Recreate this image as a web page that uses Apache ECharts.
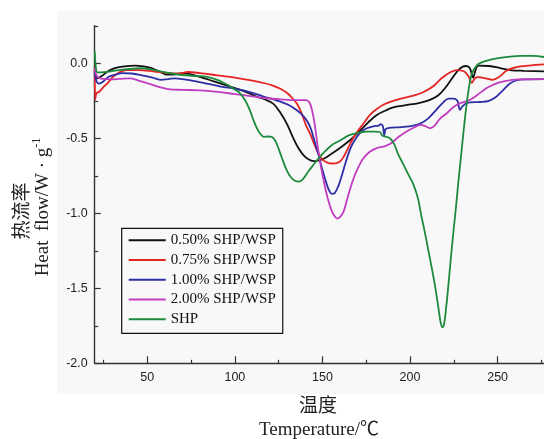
<!DOCTYPE html>
<html>
<head>
<meta charset="utf-8">
<script src="https://cdn.jsdelivr.net/npm/echarts@6/dist/echarts.min.js"></script>
<style>html,body{margin:0;padding:0;background:#fff}#c{width:544px;height:439px}</style>
</head>
<body>
<div id="c"></div>
<script>
const seriesNames = ['0.50% SHP/WSP', '0.75% SHP/WSP', '1.00% SHP/WSP', '2.00% SHP/WSP', 'SHP'];
const xTicks = [50, 100, 150, 200, 250];
const xMinorTicks = [25, 75, 125, 175, 225, 275];
const yTicks = [-2, -1.5, -1, -0.5, 0];
const yMinorTicks = [-1.75, -1.25, -0.75, -0.25, 0.25];

const s050 = [[20,-0.05],[21.5,-0.1],[24,-0.085],[28,-0.05],[32,-0.03],[37,-0.02],[43,-0.015],[48,-0.02],[52,-0.03],[57,-0.055],[61,-0.075],[65,-0.075],[70,-0.065],[74,-0.07],[80,-0.09],[88,-0.12],[96,-0.15],[104,-0.18],[112,-0.22],[118,-0.245],[122,-0.27],[126,-0.33],[130,-0.41],[133,-0.49],[136,-0.56],[139,-0.61],[142,-0.64],[145,-0.652],[148,-0.648],[151,-0.635],[155,-0.605],[160,-0.565],[166,-0.51],[171,-0.455],[176,-0.395],[181,-0.345],[186,-0.315],[190,-0.295],[197,-0.28],[205,-0.265],[211,-0.245],[216,-0.215],[220,-0.165],[224,-0.1],[228,-0.04],[231.5,-0.018],[234,-0.03],[236,-0.095],[237.5,-0.04],[239,-0.015],[245,-0.018],[251,-0.03],[257,-0.045],[265,-0.05],[280,-0.055]];
const s075 = [[20,-0.03],[20.3,-0.24],[21,-0.2],[22.5,-0.19],[24.5,-0.165],[27.5,-0.13],[31,-0.085],[35,-0.055],[39,-0.045],[45,-0.045],[54,-0.055],[62,-0.065],[69,-0.067],[73,-0.058],[80,-0.065],[90,-0.08],[100,-0.095],[110,-0.115],[117,-0.133],[122,-0.15],[126,-0.17],[130,-0.2],[133,-0.235],[135.5,-0.27],[138,-0.33],[140.5,-0.41],[143,-0.47],[145,-0.53],[147,-0.585],[149.5,-0.635],[152,-0.658],[155,-0.668],[157.5,-0.667],[160,-0.655],[162,-0.625],[164,-0.58],[167,-0.51],[170,-0.455],[173.5,-0.4],[177,-0.345],[181,-0.305],[185,-0.275],[190,-0.252],[196,-0.232],[203,-0.212],[208,-0.19],[213,-0.155],[218,-0.1],[223,-0.06],[227,-0.045],[231,-0.055],[233.5,-0.09],[235.3,-0.13],[237,-0.1],[239,-0.092],[243,-0.1],[247,-0.11],[251,-0.09],[255,-0.05],[260,-0.028],[268,-0.015],[280,-0.005]];
const s100 = [[20,-0.05],[21,-0.12],[22.5,-0.135],[25,-0.12],[28,-0.09],[32,-0.075],[36,-0.066],[41,-0.068],[47,-0.08],[53,-0.095],[58,-0.11],[62,-0.105],[66,-0.1],[70,-0.105],[74,-0.112],[82,-0.13],[92,-0.155],[100,-0.17],[108,-0.19],[116,-0.22],[122,-0.24],[126,-0.256],[131,-0.28],[135,-0.31],[139,-0.35],[141.5,-0.39],[143.5,-0.44],[145.5,-0.52],[147.5,-0.6],[149.5,-0.69],[151.5,-0.77],[153.5,-0.84],[155.3,-0.87],[157,-0.865],[159,-0.82],[161,-0.75],[163,-0.67],[165.5,-0.58],[168,-0.52],[171,-0.47],[175,-0.435],[179,-0.42],[182,-0.415],[183.3,-0.405],[184.5,-0.42],[185.3,-0.48],[186,-0.44],[188,-0.43],[195,-0.425],[202,-0.415],[207,-0.395],[211,-0.36],[215,-0.31],[219,-0.26],[222,-0.235],[225,-0.235],[227,-0.25],[228.5,-0.31],[230,-0.285],[233,-0.262],[240,-0.258],[245,-0.25],[249,-0.225],[253,-0.18],[257,-0.135],[261,-0.113],[266,-0.107],[280,-0.105]];
const s200 = [[20,-0.03],[21,-0.08],[23,-0.1],[27,-0.105],[31,-0.107],[36,-0.102],[40,-0.1],[45,-0.115],[50,-0.133],[56,-0.155],[62,-0.172],[70,-0.177],[80,-0.18],[90,-0.19],[100,-0.205],[110,-0.22],[118,-0.233],[126,-0.24],[135,-0.245],[140.5,-0.245],[142.5,-0.26],[144,-0.31],[145.5,-0.4],[147,-0.53],[149,-0.68],[151,-0.8],[153,-0.9],[155,-0.975],[157,-1.02],[158.5,-1.035],[160,-1.025],[162,-0.99],[164,-0.91],[166,-0.83],[168,-0.76],[170,-0.705],[173,-0.64],[177,-0.59],[181,-0.565],[185,-0.555],[189,-0.535],[193,-0.495],[198,-0.455],[202,-0.43],[206,-0.41],[209,-0.42],[211.5,-0.433],[214,-0.415],[217,-0.37],[221,-0.333],[225,-0.29],[228.5,-0.267],[234,-0.245],[238,-0.215],[243.5,-0.167],[248,-0.14],[253,-0.122],[262,-0.107],[280,-0.105]];
const shp = [[20,0.08],[20.7,-0.03],[21.5,-0.06],[24,-0.06],[28,-0.055],[34,-0.045],[40,-0.038],[46,-0.033],[52,-0.04],[58,-0.055],[64,-0.068],[70,-0.078],[78,-0.085],[84,-0.09],[90,-0.11],[96,-0.145],[100,-0.175],[103,-0.2],[106,-0.25],[108.5,-0.31],[110.5,-0.375],[112.5,-0.43],[114.5,-0.47],[116.5,-0.49],[119,-0.488],[121,-0.49],[123,-0.515],[125,-0.57],[127,-0.635],[129.5,-0.71],[132,-0.76],[134.5,-0.785],[136.5,-0.789],[139,-0.77],[142,-0.72],[145,-0.675],[148,-0.63],[152,-0.58],[156,-0.54],[160,-0.515],[165,-0.48],[170,-0.465],[175,-0.456],[180,-0.455],[182.8,-0.458],[184,-0.48],[185.5,-0.487],[188.5,-0.5],[191,-0.54],[193,-0.6],[196,-0.67],[199,-0.74],[202,-0.81],[204.5,-0.9],[206.5,-1.02],[208.5,-1.13],[210.5,-1.25],[212.5,-1.37],[214.5,-1.5],[216.3,-1.64],[217.5,-1.73],[218.4,-1.76],[219.4,-1.74],[220.5,-1.64],[221.8,-1.49],[223.2,-1.31],[224.7,-1.13],[226.2,-0.96],[227.5,-0.8],[229,-0.63],[230.4,-0.47],[232,-0.3],[233.5,-0.17],[235,-0.08],[236.5,-0.04],[239,-0.005],[243,0.015],[249.5,0.033],[256,0.043],[263,0.049],[270,0.049],[280,0.035]];

const seriesData = [s050, s075, s100, s200, shp];
const colors = ['#111111', '#e42323', '#2e2ea6', '#c03cc0', '#1e8a3c'];

const chart = echarts.init(document.getElementById('c'), null, {renderer: 'canvas'});
const serif = '"Liberation Serif", "Times New Roman", "Noto Sans CJK SC", serif';
const sans = '"Liberation Sans", Arial, sans-serif';
const axisCol = '#333333';

chart.setOption({
  animation: false,
  backgroundColor: '#ffffff',
  grid: {left: 94.7, top: 25.8, width: 455.5, height: 337.5, containLabel: false, outerBoundsMode: 'none'},
  graphic: [
    {type: 'rect', shape: {x: 57, y: 11, width: 487, height: 383.3}, style: {fill: '#f8f8f8'}, z: -10, silent: true},
    {type: 'text', x: 20.7, y: 211, rotation: Math.PI / 2,
      style: {text: '热流率', font: '19px "Noto Sans CJK SC"', fill: '#222', align: 'center', verticalAlign: 'middle'}},
    {type: 'text', x: 43.3, y: 207, rotation: Math.PI / 2,
      style: {text: '{m|Heat  flow/W · g}{s|-1}', align: 'center', verticalAlign: 'middle', fill: '#222',
        rich: {m: {fontFamily: serif, fontSize: 19, lineHeight: 24, fill: '#222'},
               s: {fontFamily: serif, fontSize: 12, lineHeight: 24, verticalAlign: 'top', fill: '#222'}}}},
    {type: 'text', x: 318, y: 405, style: {text: '温度', font: '19px "Noto Sans CJK SC"', fill: '#222', align: 'center', verticalAlign: 'middle'}},
    {type: 'text', x: 319, y: 430, style: {text: 'Temperature/℃', font: '19px ' + serif, fill: '#222', align: 'center', verticalAlign: 'middle'}}
  ],
  legend: {
    orient: 'vertical', left: 121.7, top: 228.3,
    data: seriesNames,
    itemWidth: 37, itemHeight: 16, itemGap: 3.75,
    padding: [4, 7, 6, 7],
    borderColor: '#111', borderWidth: 1.2, backgroundColor: '#f8f8f8',
    textStyle: {fontFamily: serif, fontSize: 15, color: '#111', lineHeight: 16},
    icon: 'path://M0,0L37,0L37,2L0,2Z',
    selectedMode: false
  },
  xAxis: [
    {type: 'value', min: 20, max: 280, position: 'bottom',
      axisLine: {show: true, onZero: false, lineStyle: {color: axisCol, width: 1.4}},
      axisTick: {show: true, inside: true, length: 7, customValues: xTicks, lineStyle: {color: axisCol, width: 1.2}},
      axisLabel: {show: true, customValues: xTicks, margin: 8, fontFamily: sans, fontSize: 12.5, color: '#222'},
      splitLine: {show: false}},
    {type: 'value', min: 20, max: 280, position: 'bottom', offset: 0,
      axisLine: {show: false, onZero: false},
      axisTick: {show: true, inside: true, length: 3.5, customValues: xMinorTicks, lineStyle: {color: axisCol, width: 1.2}},
      axisLabel: {show: false},
      splitLine: {show: false}}
  ],
  yAxis: [
    {type: 'value', min: -2, max: 0.25, position: 'left',
      axisLine: {show: true, onZero: false, lineStyle: {color: axisCol, width: 1.4}},
      axisTick: {show: true, inside: true, length: 6, customValues: yTicks, lineStyle: {color: axisCol, width: 1.2}},
      axisLabel: {show: true, customValues: yTicks, margin: 7, formatter: v => Number(v).toFixed(1),
        fontFamily: sans, fontSize: 12.5, color: '#222'},
      splitLine: {show: false}},
    {type: 'value', min: -2, max: 0.25, position: 'left', offset: 0,
      axisLine: {show: false, onZero: false},
      axisTick: {show: true, inside: true, length: 3.5, customValues: yMinorTicks, lineStyle: {color: axisCol, width: 1.2}},
      axisLabel: {show: false},
      splitLine: {show: false}}
  ],
  series: seriesNames.map((name, i) => ({
    name: name, type: 'line', xAxisIndex: 0, yAxisIndex: 0,
    data: seriesData[i], symbol: 'none', smooth: 0.35, clip: true,
    lineStyle: {color: colors[i], width: 1.8}, itemStyle: {color: colors[i]}
  }))
});
</script>
</body>
</html>
